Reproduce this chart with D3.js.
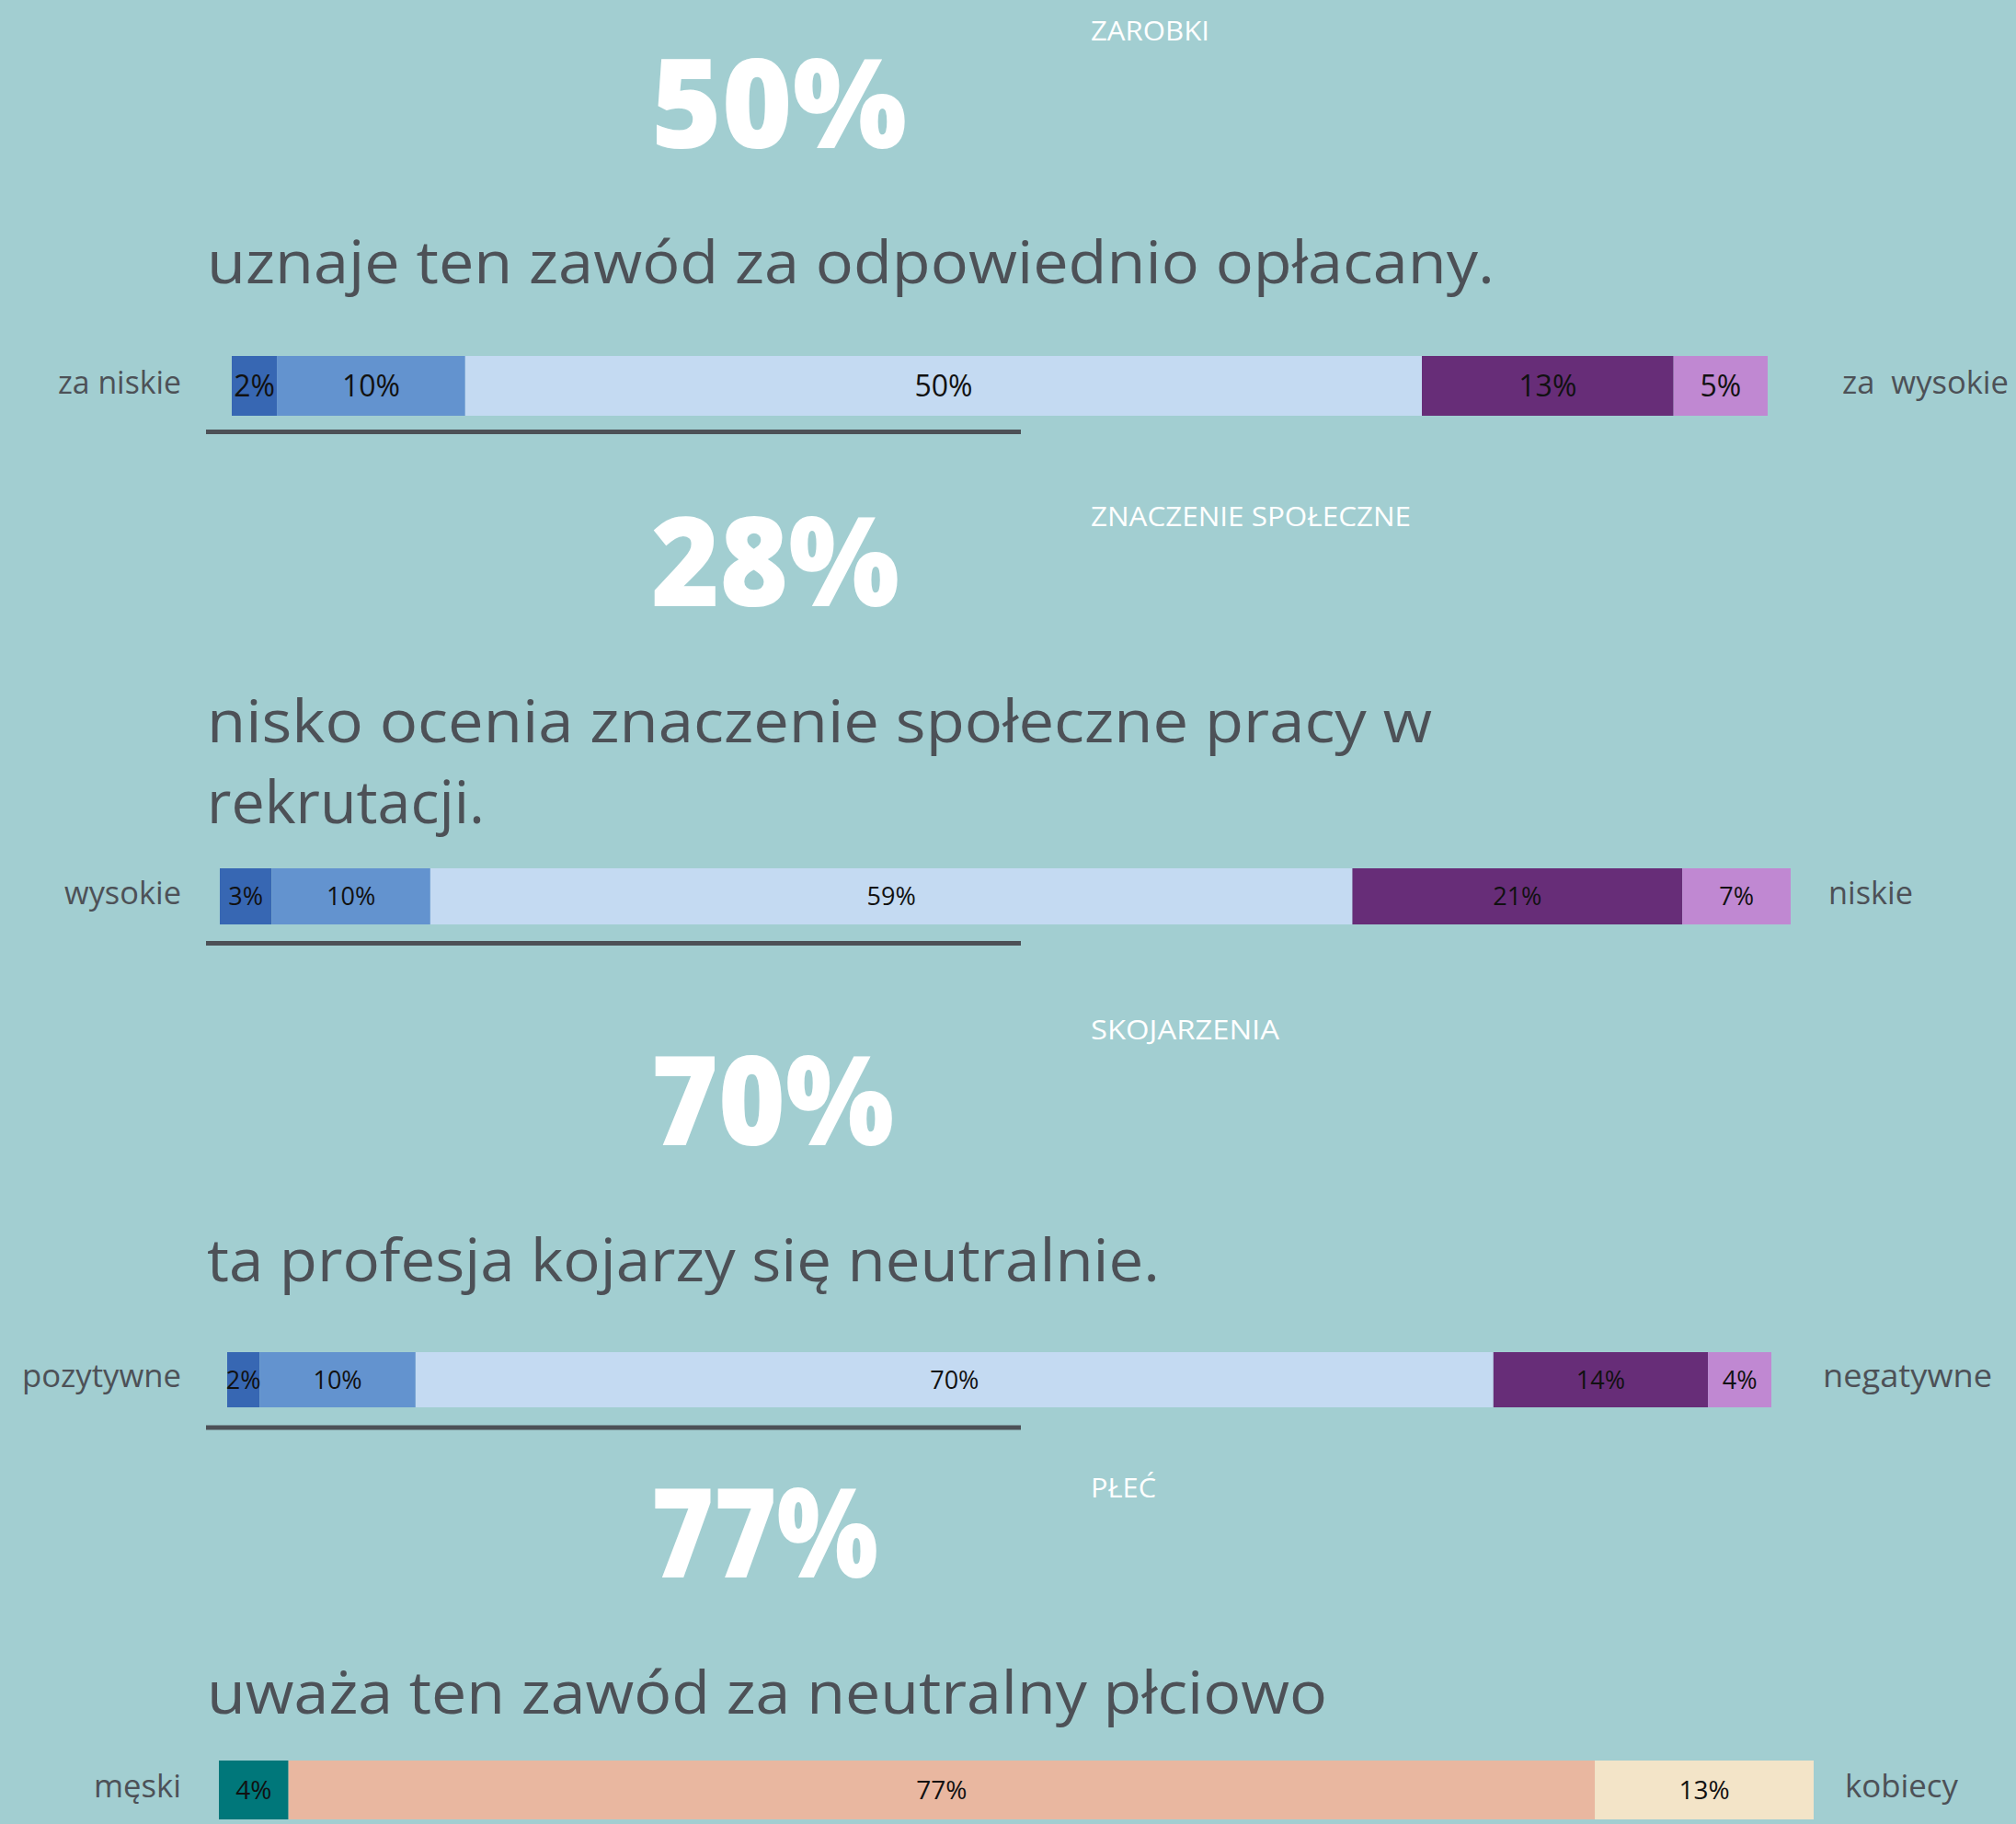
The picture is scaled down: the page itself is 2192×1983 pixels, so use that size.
<!DOCTYPE html>
<html>
<head>
<meta charset="utf-8">
<script src="https://cdn.jsdelivr.net/npm/d3@7"></script>
<style>
  html, body { margin: 0; padding: 0; background: #a2ced1; }
  svg { display: block; }
  text { white-space: pre; }
</style>
</head>
<body>
<svg id="chart" width="2192" height="1983"></svg>
<script>
// ---------- DATA ----------
const sectionTitles = ["ZAROBKI", "ZNACZENIE SPOŁECZNE", "SKOJARZENIA", "PŁEĆ"];
const headlineValues = ["50%", "28%", "70%", "77%"];
const subtitleLines = [
  ["uznaje ten zawód za odpowiednio opłacany."],
  ["nisko ocenia znaczenie społeczne pracy w", "rekrutacji."],
  ["ta profesja kojarzy się neutralnie."],
  ["uważa ten zawód za neutralny płciowo"]
];
const leftLabels = ["za niskie", "wysokie", "pozytywne", "męski"];
const rightLabels = ["za  wysokie", "niskie", "negatywne", "kobiecy"];

const zarobkiValues = [2.35, 9.8, 49.8, 13.1, 4.9];
const znaczenieValues = [3.3, 10.1, 58.7, 21.0, 6.9];
const skojarzeniaValues = [2.1, 10.1, 69.8, 13.9, 4.1];
const plecValues = [4.1, 77.0, 12.9];

const scaleColors = ["#3767b3", "#6393cf", "#c4daf2", "#672d78", "#c088d2"];
const genderColors = ["#00777a", "#e9b7a0", "#f3e4c8"];

const seriesValues = [zarobkiValues, znaczenieValues, skojarzeniaValues, plecValues];
const seriesColors = [scaleColors, scaleColors, scaleColors, genderColors];

// ---------- LAYOUT ----------
const layout = [
  {titleY: 44,  numY: 161,  numW: 278, subY: [308],      subW: [1400],       barY: 387,  barH: 65, barX: [252, 1922], underY: 469.5, rightX: 2003, barFont: 32, leftW: 134, rightW: 181},
  {titleY: 572, numY: 659,  numW: 270, subY: [807, 895], subW: [1332, 302],  barY: 944,  barH: 61, barX: [239, 1947], underY: 1025.5, rightX: 1988, barFont: 27, leftW: 127, rightW: 92},
  {titleY: 1130,numY: 1245, numW: 264, subY: [1393],     subW: [1036],       barY: 1470, barH: 60, barX: [247, 1926], underY: 1552, rightX: 1982, barFont: 27, leftW: 173, rightW: 184},
  {titleY: 1628,numY: 1715, numW: 247, subY: [1863],     subW: [1218],       barY: 1914, barH: 64, barX: [238, 1972], underY: null, rightX: 2006, barFont: 28, leftW: 95, rightW: 123}
];
const titleWidths = [129, 348, 205, 71];

const FONT = "'Open Sans', 'Noto Sans', sans-serif";
const GRAY = "#4d5157";

const svg = d3.select("#chart");

sectionTitles.forEach((title, i) => {
  const L = layout[i];
  const g = svg.append("g");

  // small section title
  g.append("text")
    .attr("x", 1186).attr("y", L.titleY)
    .attr("font-family", FONT).attr("font-size", 30).attr("font-weight", 500)
    .attr("fill", "#ffffff")
    .attr("textLength", titleWidths[i]).attr("lengthAdjust", "spacingAndGlyphs")
    .text(title);

  // big headline number
  g.append("text")
    .attr("x", 708).attr("y", L.numY)
    .attr("font-family", FONT).attr("font-size", 134).attr("font-weight", 800)
    .attr("fill", "#ffffff")
    .attr("textLength", L.numW).attr("lengthAdjust", "spacingAndGlyphs")
    .text(headlineValues[i]);

  // subtitle lines
  subtitleLines[i].forEach((line, j) => {
    g.append("text")
      .attr("x", 225).attr("y", L.subY[j])
      .attr("font-family", FONT).attr("font-size", 64).attr("font-weight", 400)
      .attr("fill", GRAY)
      .attr("textLength", L.subW[j]).attr("lengthAdjust", "spacingAndGlyphs")
      .text(line);
  });

  // stacked bar
  const vals = seriesValues[i];
  const cols = seriesColors[i];
  const total = d3.sum(vals);
  const x = d3.scaleLinear().domain([0, total]).range(L.barX);
  const stacked = [];
  let acc = 0;
  vals.forEach((v, k) => { stacked.push({v, k, x0: acc, x1: acc + v}); acc += v; });

  g.selectAll("rect.seg").data(stacked).join("rect")
    .attr("class", "seg")
    .attr("x", d => x(d.x0))
    .attr("y", L.barY)
    .attr("width", d => x(d.x1) - x(d.x0))
    .attr("height", L.barH)
    .attr("fill", d => cols[d.k]);

  g.selectAll("text.seglab").data(stacked).join("text")
    .attr("class", "seglab")
    .attr("x", d => (x(d.x0) + x(d.x1)) / 2)
    .attr("y", L.barY + L.barH / 2)
    .attr("dy", "0.36em")
    .attr("text-anchor", "middle")
    .attr("font-family", FONT).attr("font-size", L.barFont)
    .attr("fill", "#111111")
    .text(d => Math.round(d.v) + "%");

  // side labels
  const labelY = L.barY + L.barH / 2 - 4;
  g.append("text")
    .attr("x", 197 - L.leftW).attr("y", labelY).attr("dy", "0.36em")
    .attr("font-family", FONT).attr("font-size", 34)
    .attr("fill", GRAY)
    .attr("textLength", L.leftW).attr("lengthAdjust", "spacingAndGlyphs")
    .text(leftLabels[i]);
  g.append("text")
    .attr("x", L.rightX).attr("y", labelY).attr("dy", "0.36em")
    .attr("font-family", FONT).attr("font-size", 34)
    .attr("fill", GRAY)
    .attr("textLength", L.rightW).attr("lengthAdjust", "spacingAndGlyphs")
    .text(rightLabels[i]);

  // underline
  if (L.underY !== null) {
    g.append("line")
      .attr("x1", 224).attr("x2", 1110)
      .attr("y1", L.underY).attr("y2", L.underY)
      .attr("stroke", GRAY).attr("stroke-width", 5);
  }
});
</script>
</body>
</html>
